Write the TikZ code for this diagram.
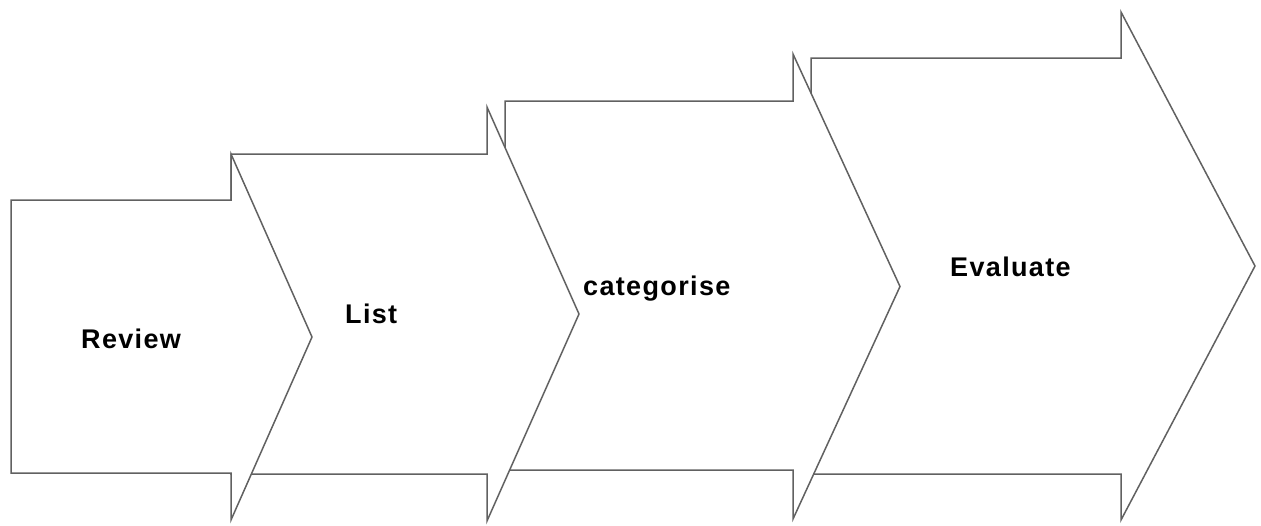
\documentclass[tikz,border=0pt]{standalone}
\usepackage{fontspec}
\newfontfamily\stepfont[LetterSpace=5]{Liberation Sans}
\tikzset{
  steparrow/.style = {draw=black!62, line width=1.5pt, fill=white},
  steplabel/.style = {anchor=base west, inner sep=0pt,
    font=\stepfont\bfseries\fontsize{27}{31}\selectfont}% bold step text
}
\begin{document}
\begin{tikzpicture}[x=1pt,y=-1pt]
\useasboundingbox (0,0) rectangle (1261,525);
% arrows, back to front: left/top/bottom/shaft end/head top/head bottom/tip
\foreach \lx/\ty/\by/\sx/\hty/\hby/\tx in {811/58/474/1121/12/520/1255,
    505/101/470/793/54/519/900, 231/154/474/487/107/521/579,
    11/200/473/231/154/520/312}
  \draw[steparrow] (\lx,\ty) -- (\sx,\ty) -- (\sx,\hty) -- (\tx,{(\hty+\hby)/2})
    -- (\sx,\hby) -- (\sx,\by) -- (\lx,\by) -- cycle;
\node [steplabel] (review) at (81,348) {Review};
\node [steplabel] (list) at (345,323) {List};
\node [steplabel] (categorise) at (583,295) {categorise};
\node [steplabel] (evaluate) at (950,276) {Evaluate};
\end{tikzpicture}
\end{document}
